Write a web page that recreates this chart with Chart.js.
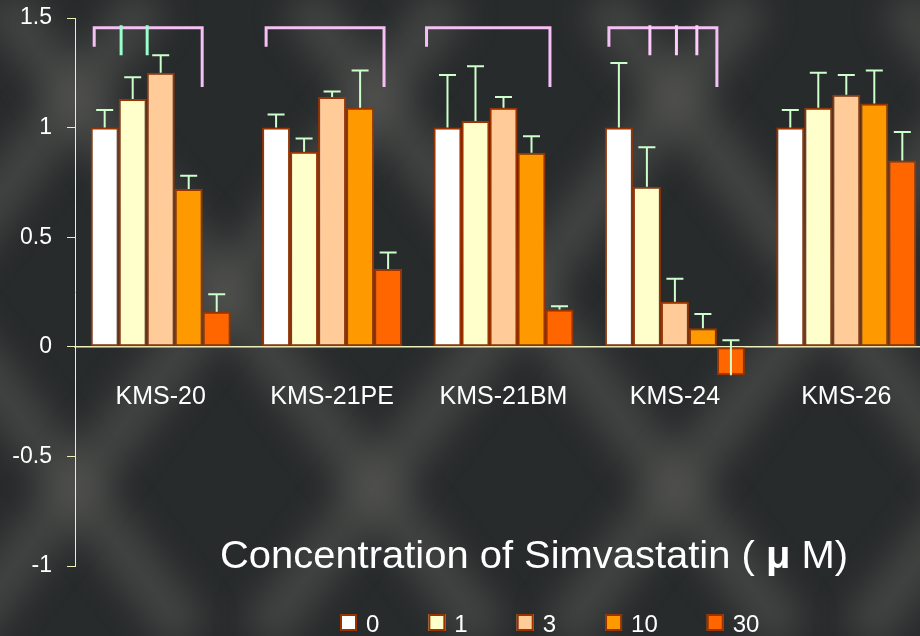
<!DOCTYPE html>
<html>
<head>
<meta charset="utf-8">
<script src="https://cdn.jsdelivr.net/npm/chart.js@4.4.0/dist/chart.umd.min.js"></script>
<style>
  html, body { margin: 0; padding: 0; background: #2a2d2e; overflow: hidden; }
  #wrap { width: 932px; height: 636px; }
</style>
</head>
<body>
<div id="wrap"><canvas id="chart"></canvas></div>
<script>
// cell lines and simvastatin concentrations (uM)
const categories = ["KMS-20", "KMS-21PE", "KMS-21BM", "KMS-24", "KMS-26"];
const concLabels = ["0", "1", "3", "10", "30"];

// relative values per concentration
const conc0  = [1.00, 1.00, 1.00, 1.00, 1.00];
const conc1  = [1.13, 0.89, 1.03, 0.73, 1.09];
const conc3  = [1.25, 1.14, 1.09, 0.205, 1.15];
const conc10 = [0.72, 1.09, 0.885, 0.085, 1.11];
const conc30 = [0.16, 0.355, 0.17, -0.13, 0.85];

// upper error bars
const err0  = [0.08, 0.06, 0.24, 0.295, 0.08];
const err1  = [0.10, 0.06, 0.25, 0.18, 0.16];
const err3  = [0.08, 0.025, 0.05, 0.105, 0.09];
const err10 = [0.06, 0.17, 0.075, 0.065, 0.15];
const err30 = [0.08, 0.075, 0.015, 0.16, 0.13];

const AXIS_COLOR  = "#eeeebb";
const BAR_BORDER  = "#993300";
const ERR_COLOR   = "#ccffcc";
const FONT        = "'Liberation Sans', Arial, sans-serif";

Chart.defaults.font.family = FONT;
Chart.defaults.color = "#ffffff";

// significance brackets, x given as offset from category centre (in category widths)
const brackets = [
  { cat: 0, left: -0.388, right: 0.242, ticks: [-0.231, -0.079], tickColor: "#99ffcc" },
  { cat: 1, left: -0.385, right: 0.303, ticks: [], tickColor: null },
  { cat: 2, left: -0.449, right: 0.271, ticks: [], tickColor: null },
  { cat: 3, left: -0.385, right: 0.245, ticks: [-0.146, 0.009, 0.128], tickColor: "#ffccff" }
];

var series = [conc0, conc1, conc3, conc10, conc30];
var errors = [err0, err1, err3, err10, err30];
var fills  = ["#ffffff", "#ffffcc", "#ffcc99", "#ff9900", "#ff6600"];

var datasets = series.map(function(vals, i) {
  return {
    label: concLabels[i],
    data: vals,
    backgroundColor: fills[i],
    borderColor: BAR_BORDER,
    borderWidth: 2,
    borderSkipped: false,
    categoryPercentage: 0.817,
    barPercentage: 1.0
  };
});

var backdrop = {
  id: "backdrop",
  beforeDraw: function(chart) {
    var ctx = chart.ctx;
    ctx.save();
    ctx.fillStyle = "#282b2c";
    ctx.fillRect(0, 0, chart.width, chart.height);
    ctx.filter = "blur(16px)";
    ctx.strokeStyle = "rgba(100,100,95,0.42)";
    ctx.lineWidth = 50;
    var h = chart.height, run = h / 1.3;
    for (var c = -600; c < 1700; c += 300) {
      ctx.beginPath(); ctx.moveTo(c, 0); ctx.lineTo(c + run, h); ctx.stroke();
      ctx.beginPath(); ctx.moveTo(c + 150, 0); ctx.lineTo(c + 150 - run, h); ctx.stroke();
    }
    ctx.restore();
  }
};

var extras = {
  id: "extras",
  afterDatasetsDraw: function(chart) {
    var ctx = chart.ctx, ys = chart.scales.y, xs = chart.scales.x;
    ctx.save();
    // error bars
    ctx.strokeStyle = ERR_COLOR;
    ctx.lineWidth = 2;
    chart.data.datasets.forEach(function(ds, d) {
      var meta = chart.getDatasetMeta(d);
      meta.data.forEach(function(bar, i) {
        var y0 = ys.getPixelForValue(ds.data[i]);
        var y1 = ys.getPixelForValue(ds.data[i] + errors[d][i]);
        ctx.beginPath();
        ctx.moveTo(bar.x, y0); ctx.lineTo(bar.x, y1);
        ctx.moveTo(bar.x - 8.5, y1); ctx.lineTo(bar.x + 8.5, y1);
        ctx.stroke();
      });
    });
    // brackets
    var cw = xs.width / categories.length;
    var yTop = ys.getPixelForValue(1.456);
    var yLeft = ys.getPixelForValue(1.369);
    var yRight = ys.getPixelForValue(1.185);
    brackets.forEach(function(b) {
      var cx = xs.getPixelForValue(b.cat);
      var xl = cx + b.left * cw, xr = cx + b.right * cw;
      ctx.lineWidth = 3;
      ctx.lineCap = "butt";
      ctx.strokeStyle = "#f5c0f5";
      ctx.beginPath();
      ctx.moveTo(xl, yLeft); ctx.lineTo(xl, yTop); ctx.lineTo(xr, yTop); ctx.lineTo(xr, yRight);
      ctx.stroke();
      if (b.tickColor) {
        ctx.strokeStyle = b.tickColor;
        b.ticks.forEach(function(t) {
          var x = cx + t * cw;
          ctx.beginPath();
          ctx.moveTo(x, ys.getPixelForValue(1.467));
          ctx.lineTo(x, ys.getPixelForValue(1.33));
          ctx.stroke();
        });
      }
    });
    ctx.restore();
  },
  afterDraw: function(chart) {
    var ctx = chart.ctx;
    ctx.save();
    // axis caption
    var parts = [["Concentration of Simvastatin ( ", ""], ["\u03bc", "bold "], [" M)", ""]];
    ctx.fillStyle = "#ffffff";
    ctx.textBaseline = "alphabetic";
    var total = 0;
    parts.forEach(function(p) { ctx.font = p[1] + "38px " + FONT; p.push(ctx.measureText(p[0]).width); total += p[2]; });
    var sx = 628 / total;
    ctx.translate(220, 568);
    ctx.scale(sx, 1);
    var x = 0;
    parts.forEach(function(p) { ctx.font = p[1] + "38px " + FONT; ctx.fillText(p[0], x, 0); x += p[2]; });
    ctx.restore();

    // legend
    ctx.save();
    ctx.font = "24px " + FONT;
    ctx.textBaseline = "alphabetic";
    var lx = 340;
    chart.data.datasets.forEach(function(ds) {
      ctx.fillStyle = ds.backgroundColor;
      ctx.fillRect(lx, 614, 17, 17);
      ctx.strokeStyle = BAR_BORDER;
      ctx.lineWidth = 2;
      ctx.strokeRect(lx + 1, 615, 15, 15);
      ctx.fillStyle = "#ffffff";
      ctx.fillText(ds.label, lx + 26, 632);
      lx += 26 + ctx.measureText(ds.label).width + 49;
    });
    ctx.restore();
  }
};

new Chart(document.getElementById("chart"), {
  type: "bar",
  data: { labels: categories, datasets: datasets },
  plugins: [backdrop, extras],
  options: {
    responsive: true,
    maintainAspectRatio: false,
    animation: false,
    layout: { padding: { left: 0, top: 18, right: 0, bottom: 70 } },
    plugins: {
      legend: { display: false },
      tooltip: { enabled: false }
    },
    scales: {
      x: {
        position: { y: 0 },
        afterFit: function(scale) { scale.paddingLeft = 0; scale.paddingRight = 0; },
        grid: { drawOnChartArea: false, drawTicks: false },
        border: { color: AXIS_COLOR, width: 1.5 },
        ticks: { color: "#ffffff", font: { size: 25 }, padding: 35, maxRotation: 0, autoSkip: false }
      },
      y: {
        min: -1,
        max: 1.5,
        afterFit: function(scale) { scale.width = 75; scale.paddingTop = 10; scale.paddingBottom = 10; },
        grid: { drawOnChartArea: false, drawTicks: true, tickLength: 8, color: AXIS_COLOR },
        border: { color: AXIS_COLOR, width: 1 },
        ticks: {
          stepSize: 0.5, color: "#ffffff", font: { size: 23 }, padding: 15,
          callback: function(v) { return String(Math.round(v * 10) / 10); }
        }
      }
    }
  }
});
</script>
</body>
</html>
